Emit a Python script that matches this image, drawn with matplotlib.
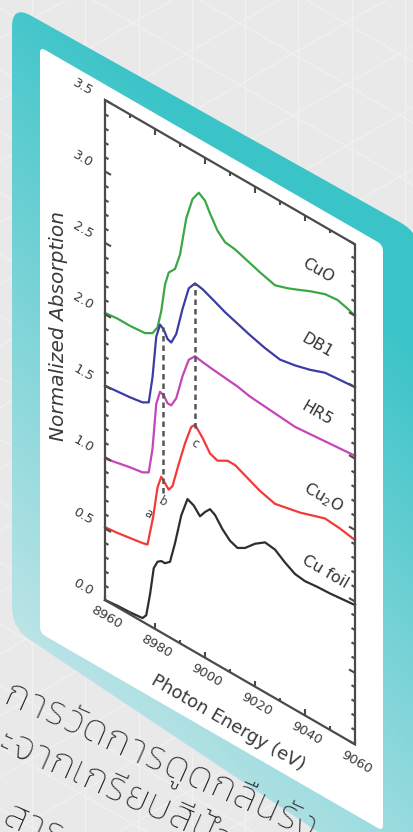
import numpy as np
import matplotlib
matplotlib.use("Agg")
import matplotlib.pyplot as plt
from matplotlib.path import Path
from matplotlib.patches import PathPatch
from matplotlib.transforms import Affine2D
from matplotlib.ticker import MultipleLocator
from matplotlib.collections import LineCollection
from matplotlib.font_manager import FontProperties

# ---------------------------------------------------------------- data
# Cu K-edge XANES spectra, stacked with vertical offsets
E_cuo = [8960, 8965, 8970, 8976, 8979, 8981, 8982.5, 8984, 8985.5, 8988, 8990,
         8992.5, 8995, 8997.5, 9000, 9002, 9005, 9008, 9012, 9017, 9022, 9028,
         9033, 9037, 9042, 9048, 9053, 9057, 9060]
A_cuo = [2.01, 2.02, 2.02, 2.03, 2.06, 2.12, 2.25, 2.45, 2.55, 2.60, 2.72,
         3.00, 3.16, 3.23, 3.20, 3.13, 3.04, 2.99, 2.98, 2.95, 2.92, 2.89,
         2.92, 2.95, 2.99, 3.03, 3.04, 3.02, 3.00]

E_db1 = [8960, 8965, 8970, 8975, 8977.5, 8979, 8980.5, 8982, 8983.5, 8985,
         8986.5, 8988.5, 8991, 8993.5, 8996, 8999, 9003, 9008, 9013, 9018,
         9024, 9030, 9036, 9042, 9048, 9054, 9060]
A_db1 = [1.50, 1.51, 1.52, 1.535, 1.56, 1.75, 2.05, 2.15, 2.13, 2.08,
         2.07, 2.15, 2.35, 2.52, 2.58, 2.57, 2.54, 2.50, 2.47, 2.44,
         2.41, 2.39, 2.41, 2.44, 2.48, 2.49, 2.50]

E_hr5 = [8960, 8965, 8970, 8975, 8977.5, 8979, 8980.5, 8982, 8983.5, 8985,
         8986.5, 8988.5, 8991, 8993.5, 8996, 8999, 9003, 9008, 9013, 9018,
         9024, 9030, 9036, 9042, 9048, 9054, 9060]
A_hr5 = [0.99, 1.01, 1.03, 1.045, 1.07, 1.25, 1.58, 1.68, 1.67, 1.63,
         1.63, 1.70, 1.88, 2.02, 2.07, 2.06, 2.05, 2.04, 2.03, 2.01,
         2.00, 1.99, 1.98, 1.99, 2.00, 2.01, 2.02]

E_cu2o = [8960, 8965, 8970, 8975, 8977, 8979.3, 8981, 8982.5, 8984, 8985.5,
          8987, 8989.5, 8992, 8994.5, 8996, 8999, 9002, 9005, 9009, 9012,
          9017, 9022, 9028, 9033, 9038, 9043, 9048, 9054, 9060]
A_cu2o = [0.51, 0.52, 0.535, 0.55, 0.56, 0.78, 1.00, 1.09, 1.06, 1.03,
          1.07, 1.25, 1.42, 1.56, 1.59, 1.53, 1.45, 1.43, 1.47, 1.47,
          1.43, 1.39, 1.36, 1.38, 1.40, 1.43, 1.46, 1.45, 1.43]

E_cu = [8960, 8965, 8970, 8975, 8976.5, 8978, 8979.5, 8981, 8982.5, 8984,
        8986, 8988, 8990.5, 8993, 8995.5, 8998, 9000, 9002, 9004, 9007,
        9010, 9013, 9016, 9020, 9024, 9028, 9032, 9036, 9040, 9045, 9050,
        9055, 9060]
A_cu = [0.00, 0.01, 0.015, 0.025, 0.06, 0.22, 0.42, 0.48, 0.50, 0.50,
        0.53, 0.68, 0.90, 1.04, 1.02, 0.97, 1.02, 1.06, 1.04, 0.97,
        0.92, 0.90, 0.93, 1.00, 1.05, 1.04, 0.99, 0.95, 0.94, 0.95, 0.955,
        0.965, 0.975]

series_names = ["CuO", "DB1", "HR5", "Cu$_2$O", "Cu foil"]
series_colors = ["#3aa844", "#3c3ca6", "#c546b8", "#f23a36", "#2e2e2e"]
label_E = [9045.2, 9044.8, 9044.8, 9047.2, 9048.0]
label_A = [3.17, 2.64, 2.165, 1.595, 1.084]

# feature markers: the two dashed guide lines and the letters
guide_E = [8983.0, 8996.0]
guide_lo = [0.98, 1.57]
guide_hi = [2.14, 2.58]
feat_text = ["a", "b", "c"]
feat_E = [8977.2, 8983.2, 8996.0]
feat_A = [0.78, 0.92, 1.46]

xlim = (8960, 9060)
ylim = (0.0, 3.5)

thai_lines = ["การวัดการดูดกลืนรัง",
              "ะจากเกรียบสีน้ำ",
              "สาร"]

# ---------------------------------------------------------------- canvas
W, H = 414, 832
fig = plt.figure(figsize=(W / 100, H / 100), dpi=100)
fig.patch.set_facecolor("#e9e9e9")
bg = fig.add_axes([0, 0, 1, 1])
bg.set_xlim(0, W)
bg.set_ylim(H, 0)
bg.axis("off")

SL = np.tan(np.radians(30))

# faint triangular grid on the backdrop
gcol = "#f1f1f1"
for gx in np.arange(32, W + 60, 53.3):
    bg.plot([gx, gx], [0, H], color=gcol, lw=0.9, zorder=0.5)
for c in np.arange(-300, 1200, 61.6):
    bg.plot([0, W], [c, c + SL * W], color=gcol, lw=0.9, zorder=0.5)
    bg.plot([0, W], [c + 30, c + 30 - SL * W], color=gcol, lw=0.9, zorder=0.5)


def rounded_poly(pts, r):
    pts = np.asarray(pts, float)
    n = len(pts)
    verts, codes = [], []
    for i in range(n):
        p0, p1, p2 = pts[i - 1], pts[i], pts[(i + 1) % n]
        d1 = (p0 - p1) / np.linalg.norm(p0 - p1)
        d2 = (p2 - p1) / np.linalg.norm(p2 - p1)
        verts.append(p1 + d1 * r)
        codes.append(Path.MOVETO if i == 0 else Path.LINETO)
        verts += [p1, p1 + d2 * r]
        codes += [Path.CURVE3, Path.CURVE3]
    verts.append(verts[0])
    codes.append(Path.CLOSEPOLY)
    return Path(verts, codes)


# teal slanted card with a soft gradient
teal_path = rounded_poly([(12, 5), (420, 5 + 408 * 0.56), (420, 900),
                          (12, 628)], 22)
teal_patch = PathPatch(teal_path, facecolor="none", edgecolor="none",
                       transform=bg.transData, zorder=1)
bg.add_patch(teal_patch)
yy, xx = np.mgrid[0:H, 0:W]
t = np.clip((yy - 0.99 * (xx - 12) + 52) / 850.0, 0, 1)
c_top = np.array([0x3b, 0xc4, 0xc8]) / 255.0
c_low = np.array([0xdc, 0xec, 0xee]) / 255.0
grad = c_top * (1 - t[..., None]) + c_low * t[..., None]
im = bg.imshow(grad, extent=(0, W, H, 0), zorder=1, aspect="auto",
               interpolation="bilinear")
im.set_clip_path(teal_patch)

# white card carrying the chart
white_path = rounded_poly([(40, 47), (383, 47 + 343 * SL), (383, 831),
                           (40, 633)], 6)
bg.add_patch(PathPatch(white_path, facecolor="white", edgecolor="none",
                       transform=bg.transData, zorder=2))
bg.set_xlim(0, W)
bg.set_ylim(H, 0)

# caption under the card, set with open letter spacing
THAI_MARKS = set(range(0x0E31, 0x0E32)) | set(range(0x0E34, 0x0E3B)) | \
    set(range(0x0E47, 0x0E4F))


def clusters(s):
    out = []
    for ch in s:
        if out and ord(ch) in THAI_MARKS:
            out[-1] += ch
        else:
            out.append(ch)
    return out


tprop = FontProperties(family=["Kanit", "Prompt", "Athiti", "Loma",
                               "DejaVu Sans"], weight="light", size=28)
renderer = fig.canvas.get_renderer()
t_ang = 24.0
cs, sn = np.cos(np.radians(t_ang)), np.sin(np.radians(t_ang))
track = 1.5
thai_anchor = [(2, 703), (-4, 749), (1, 824)]
for s, (tx, ty) in zip(thai_lines, thai_anchor):
    for cl in clusters(s):
        bg.text(tx, ty, cl, fontproperties=tprop, color="#2a2a2a",
                rotation=-t_ang, rotation_mode="anchor", ha="left",
                va="baseline", zorder=3)
        w = renderer.get_text_width_height_descent(cl[0], tprop,
                                                   ismath=False)[0]
        tx += (w + track) * cs
        ty += (w + track) * sn

# ---------------------------------------------------------------- chart
ax = fig.add_axes([105 / W, (H - 600) / H, 250 / W, 500 / H])
ax.set_xlim(*xlim)
ax.set_ylim(*ylim)
ax.axis("off")
ax.xaxis.set_major_locator(MultipleLocator(20))
ax.xaxis.set_minor_locator(MultipleLocator(10))
ax.yaxis.set_major_locator(MultipleLocator(0.5))
ax.yaxis.set_minor_locator(MultipleLocator(0.1))

x0 = ax.transData.transform((xlim[0], 0))[0]
shear = Affine2D().translate(-x0, 0).skew_deg(0, -30).translate(x0, 0)
tr = ax.transData + shear

ex = (xlim[1] - xlim[0]) / ax.bbox.width     # data units per pixel
ey = (ylim[1] - ylim[0]) / ax.bbox.height

frame_col = "#4a4a4a"
ax.plot([xlim[0], xlim[1], xlim[1], xlim[0], xlim[0]],
        [ylim[0], ylim[0], ylim[1], ylim[1], ylim[0]],
        color=frame_col, lw=1.6, transform=tr, clip_on=False, zorder=4,
        solid_joinstyle="miter")


def inrange(v, lo, hi):
    return [u for u in v if lo - 1e-9 <= u <= hi + 1e-9]


xmaj = inrange(ax.xaxis.get_majorticklocs(), *xlim)
xmin = [u for u in inrange(ax.xaxis.get_minorticklocs(), *xlim)
        if min(abs(u - m) for m in xmaj) > 1e-6]
ymaj = inrange(ax.yaxis.get_majorticklocs(), *ylim)
ymin = [u for u in inrange(ax.yaxis.get_minorticklocs(), *ylim)
        if min(abs(u - m) for m in ymaj) > 1e-6]

segs = []
for locs, L in ((xmaj, 6), (xmin, 3.5)):
    for e in locs:
        segs.append([(e, ylim[0]), (e, ylim[0] + L * ey)])
        segs.append([(e, ylim[1]), (e, ylim[1] - L * ey)])
for locs, L in ((ymaj, 6), (ymin, 3.5)):
    for a in locs:
        segs.append([(xlim[0], a), (xlim[0] + L * ex, a)])
        segs.append([(xlim[1], a), (xlim[1] - L * ex, a)])
ax.add_collection(LineCollection(segs, colors=frame_col, linewidths=1.5,
                                 transform=tr, clip_on=False, zorder=4))

for e in xmaj:
    ax.text(e + 1 * ex, ylim[0] - 17 * ey, f"{e:.0f}", transform=tr,
            rotation=-30, rotation_mode="anchor", ha="center", va="center",
            fontsize=9.5, color="#3a3a3a", clip_on=False)
for a in ymaj:
    ax.text(xlim[0] - 22 * ex, a, f"{a:.1f}", transform=tr,
            rotation=-30, rotation_mode="anchor", ha="center", va="center",
            fontsize=9.5, color="#3a3a3a", clip_on=False)

ax.text(xlim[0] - 47 * ex, 1.73, "Normalized Absorption", transform=tr,
        rotation=90, rotation_mode="anchor", ha="center", va="center",
        fontsize=14.5, style="italic", color="#3a3a3a", clip_on=False)
ax.text(9009.2, -0.36, "Photon Energy (eV)", transform=tr,
        rotation=-30, rotation_mode="anchor", ha="center", va="center",
        fontsize=13, color="#3a3a3a", clip_on=False)

curves = [(E_cuo, A_cuo), (E_db1, A_db1), (E_hr5, A_hr5),
          (E_cu2o, A_cu2o), (E_cu, A_cu)]
for (ee, aa), col in zip(curves, series_colors):
    ax.plot(ee, aa, color=col, lw=1.6, transform=tr, clip_on=False,
            zorder=3, solid_joinstyle="round")

for name, le, la in zip(series_names, label_E, label_A):
    ax.text(le, la, name, transform=tr, rotation=-30, rotation_mode="anchor",
            ha="center", va="center", fontsize=11.5, color="#333333",
            clip_on=False, zorder=5)

for ge, lo, hi in zip(guide_E, guide_lo, guide_hi):
    ax.plot([ge, ge], [lo, hi], color="#555555", lw=1.8,
            ls=(0, (2.2, 1.6)), transform=tr, clip_on=False, zorder=3.5)

for s, fe, fa in zip(feat_text, feat_E, feat_A):
    ax.text(fe, fa, s, transform=tr, rotation=-30, rotation_mode="anchor",
            ha="center", va="center", fontsize=8.5, color="#404040",
            clip_on=False, zorder=5)

fig.savefig("out.png", dpi=100, facecolor=fig.get_facecolor())
